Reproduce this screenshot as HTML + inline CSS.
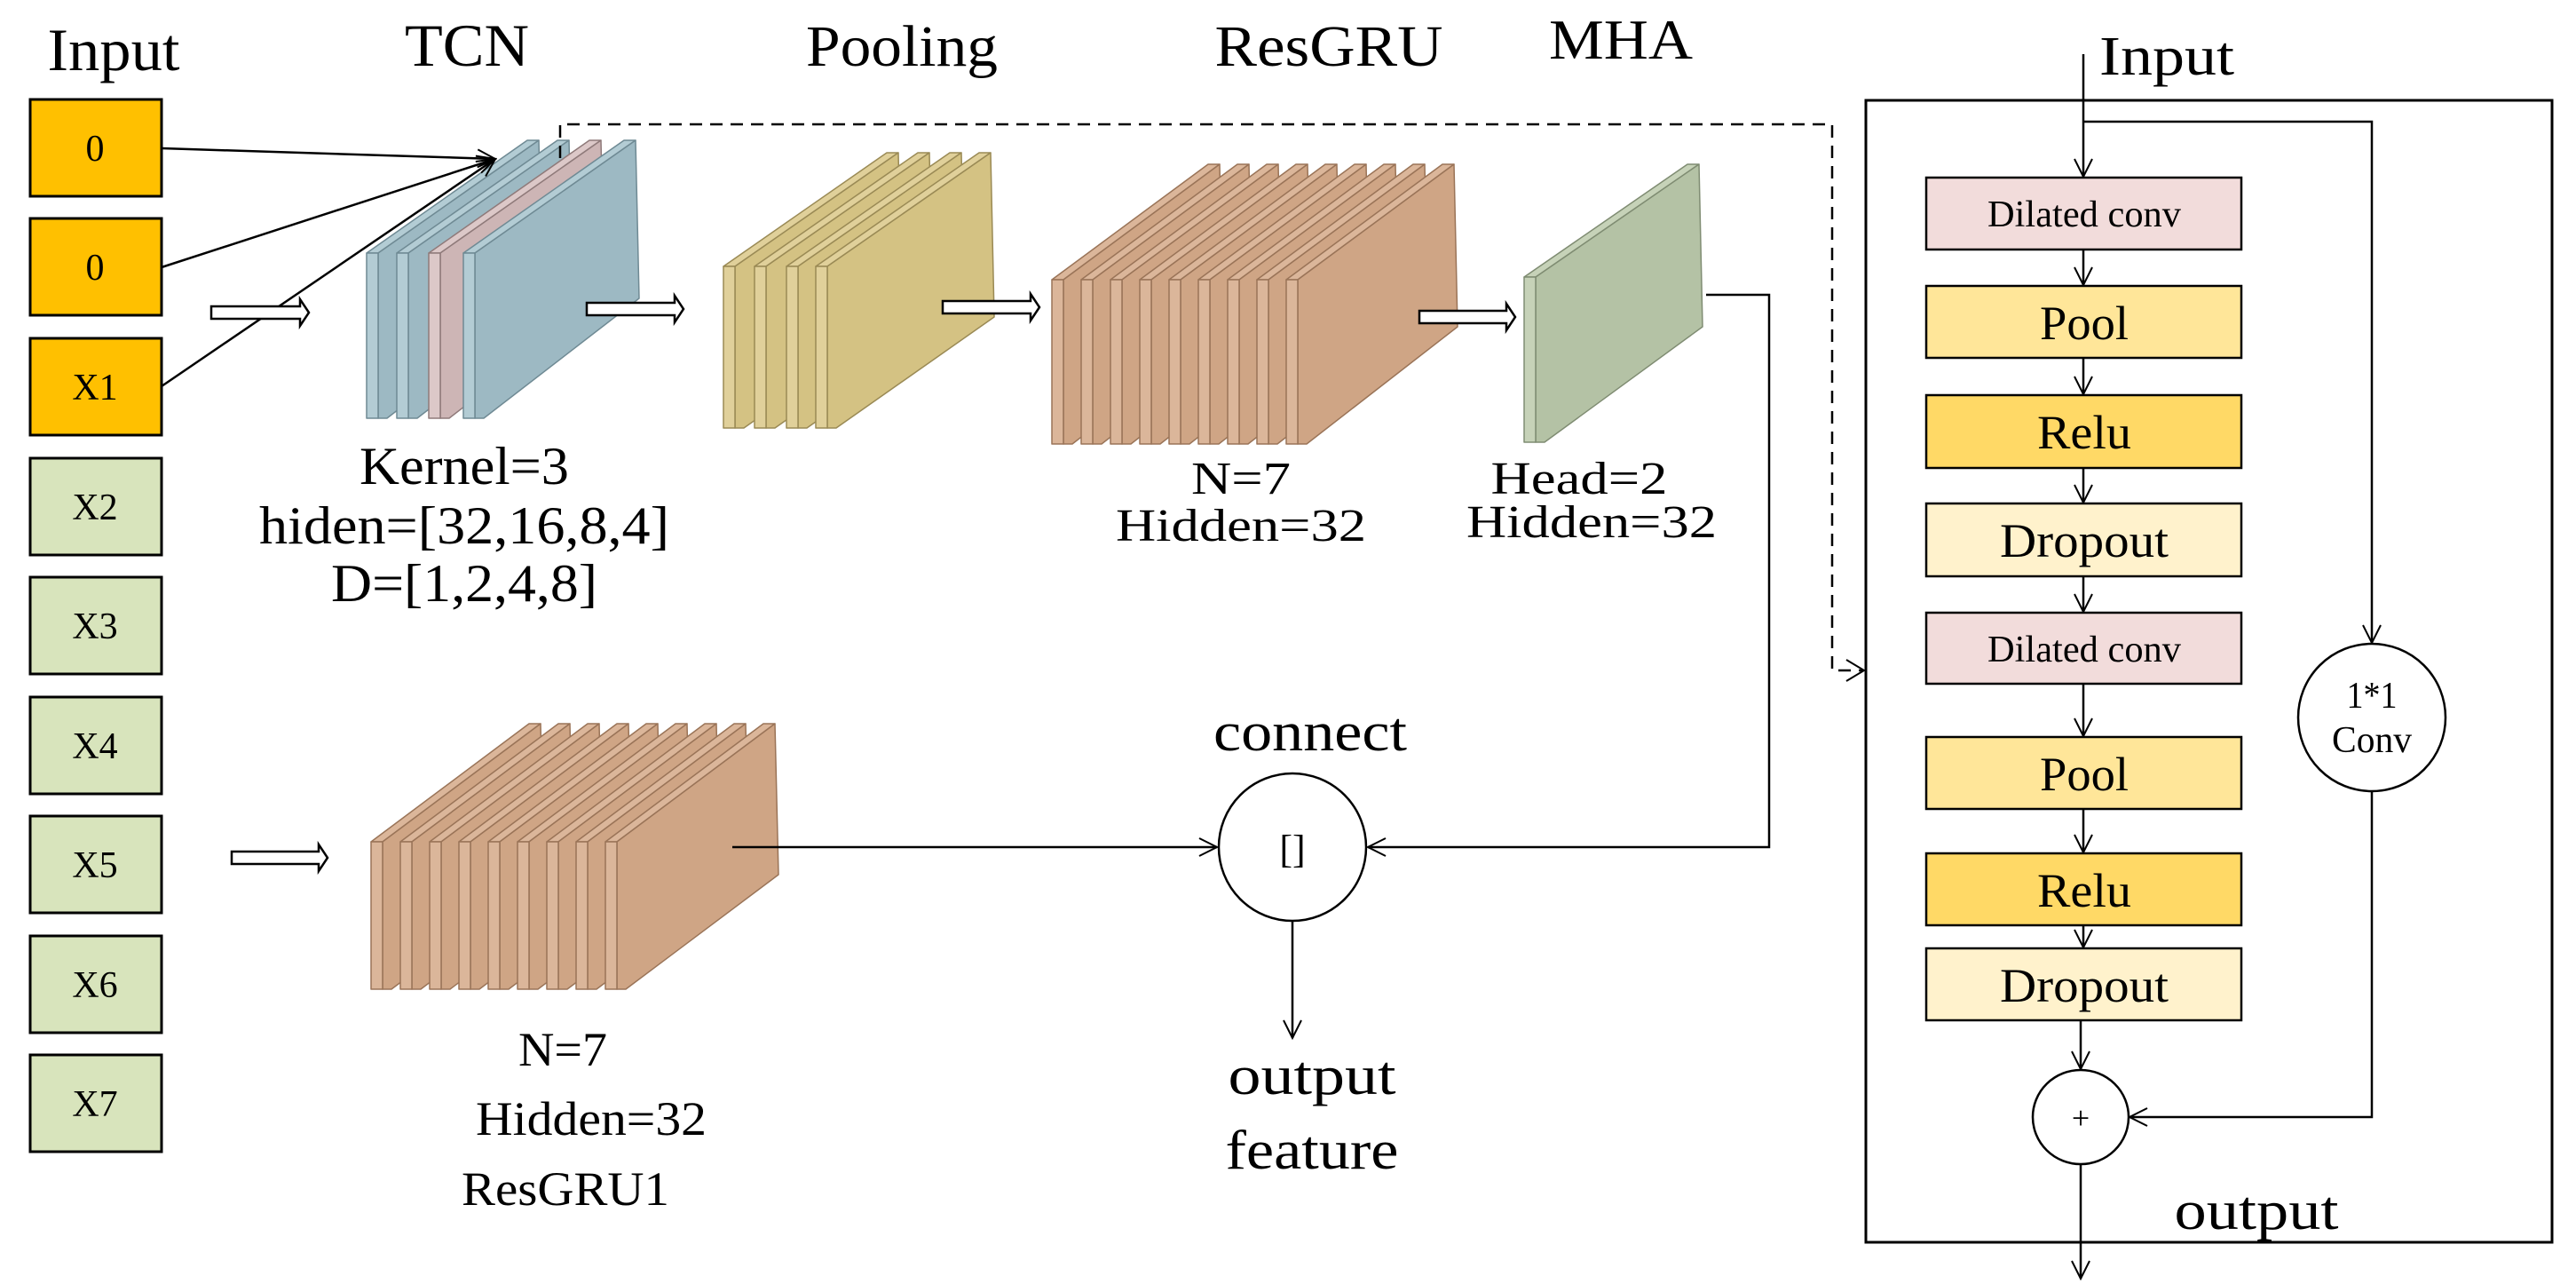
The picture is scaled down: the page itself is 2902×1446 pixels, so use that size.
<!DOCTYPE html>
<html><head><meta charset="utf-8"><style>
html,body{margin:0;padding:0;background:#fff;}
svg{display:block;}
text{font-family:"Liberation Serif",serif;fill:#000;}
</style></head><body>
<svg id="s" width="2902" height="1446" viewBox="0 0 2902 1446" xmlns="http://www.w3.org/2000/svg">
<defs>
<marker id="ah" viewBox="0 0 24 24" refX="22" refY="12" markerWidth="24" markerHeight="24" markerUnits="userSpaceOnUse" orient="auto">
<path d="M2,2 L22,12 L2,22" fill="none" stroke="#000" stroke-width="2"/>
</marker>
</defs>
<rect width="2902" height="1446" fill="#fff"/>
<g id="plates"></g>

<!-- titles -->
<text x="128" y="79" font-size="68" text-anchor="middle" textLength="149" lengthAdjust="spacingAndGlyphs">Input</text>
<text x="526" y="74" font-size="68" text-anchor="middle" textLength="140" lengthAdjust="spacingAndGlyphs">TCN</text>
<text x="1016" y="74" font-size="66" text-anchor="middle" textLength="216" lengthAdjust="spacingAndGlyphs">Pooling</text>
<text x="1497" y="74" font-size="66" text-anchor="middle" textLength="257" lengthAdjust="spacingAndGlyphs">ResGRU</text>
<text x="1826" y="66" font-size="64" text-anchor="middle" textLength="162" lengthAdjust="spacingAndGlyphs">MHA</text>

<!-- input boxes -->
<g stroke="#000" stroke-width="3">
<rect x="34" y="112" width="148" height="109" fill="#FFC000"/>
<rect x="34" y="246" width="148" height="109" fill="#FFC000"/>
<rect x="34" y="381" width="148" height="109" fill="#FFC000"/>
<rect x="34" y="516" width="148" height="109" fill="#D8E4BC"/>
<rect x="34" y="650" width="148" height="109" fill="#D8E4BC"/>
<rect x="34" y="785" width="148" height="109" fill="#D8E4BC"/>
<rect x="34" y="919" width="148" height="109" fill="#D8E4BC"/>
<rect x="34" y="1054" width="148" height="109" fill="#D8E4BC"/>
<rect x="34" y="1188" width="148" height="109" fill="#D8E4BC"/>
</g>
<g font-size="42" text-anchor="middle">
<text x="107" y="181">0</text>
<text x="107" y="315">0</text>
<text x="107" y="450">X1</text>
<text x="107" y="585">X2</text>
<text x="107" y="719">X3</text>
<text x="107" y="854">X4</text>
<text x="107" y="988">X5</text>
<text x="107" y="1123">X6</text>
<text x="107" y="1257">X7</text>
</g>

<!-- lines from inputs -->
<g stroke="#000" stroke-width="2.5" fill="none">
<line x1="182" y1="167" x2="558" y2="179" marker-end="url(#ah)"/>
<line x1="182" y1="301" x2="558" y2="179" marker-end="url(#ah)"/>
<line x1="182" y1="435" x2="558" y2="179" marker-end="url(#ah)"/>
</g>

<!-- hollow arrows -->
<g fill="#fff" stroke="#000" stroke-width="2.5">
<path d="M238,345 L338,345 L338,337 L348,352 L338,367 L338,359 L238,359 Z"/>
<path d="M661,341 L760,341 L760,333 L770,348 L760,363 L760,355 L661,355 Z"/>
<path d="M1062,339 L1161,339 L1161,331 L1171,346 L1161,361 L1161,353 L1062,353 Z"/>
<path d="M1599,350 L1697,350 L1697,342 L1707,357 L1697,372 L1697,364 L1599,364 Z"/>
<path d="M261,959 L359,959 L359,951 L369,966 L359,981 L359,973 L261,973 Z"/>
</g>

<!-- dashed -->
<g stroke="#000" stroke-width="2.5" fill="none" stroke-dasharray="14,9">
<polyline points="631,178 631,140 2064,140 2064,755 2098,755"/>
</g>
<path d="M2080,743 L2100,755 L2080,767" fill="none" stroke="#000" stroke-width="2"/>

<!-- labels -->
<text x="523" y="545" font-size="60" text-anchor="middle" textLength="236" lengthAdjust="spacingAndGlyphs">Kernel=3</text>
<text x="523" y="612" font-size="60" text-anchor="middle" textLength="462" lengthAdjust="spacingAndGlyphs">hiden=[32,16,8,4]</text>
<text x="523" y="677" font-size="60" text-anchor="middle" textLength="300" lengthAdjust="spacingAndGlyphs">D=[1,2,4,8]</text>
<text x="1398" y="556" font-size="52" text-anchor="middle" textLength="112" lengthAdjust="spacingAndGlyphs">N=7</text>
<text x="1398" y="609" font-size="52" text-anchor="middle" textLength="282" lengthAdjust="spacingAndGlyphs">Hidden=32</text>
<text x="1779" y="556" font-size="52" text-anchor="middle" textLength="199" lengthAdjust="spacingAndGlyphs">Head=2</text>
<text x="1793" y="605" font-size="52" text-anchor="middle" textLength="282" lengthAdjust="spacingAndGlyphs">Hidden=32</text>
<text x="634" y="1200" font-size="54" text-anchor="middle" textLength="100" lengthAdjust="spacingAndGlyphs">N=7</text>
<text x="666" y="1278" font-size="54" text-anchor="middle" textLength="260" lengthAdjust="spacingAndGlyphs">Hidden=32</text>
<text x="637" y="1357" font-size="54" text-anchor="middle" textLength="234" lengthAdjust="spacingAndGlyphs">ResGRU1</text>
<text x="1476" y="845" font-size="62" text-anchor="middle" textLength="218" lengthAdjust="spacingAndGlyphs">connect</text>
<text x="1478" y="1232" font-size="62" text-anchor="middle" textLength="189" lengthAdjust="spacingAndGlyphs">output</text>
<text x="1478" y="1316" font-size="62" text-anchor="middle" textLength="195" lengthAdjust="spacingAndGlyphs">feature</text>

<!-- connect -->
<g stroke="#000" stroke-width="2.5" fill="none">
<polyline points="1922,332 1993,332 1993,954 1541,954" marker-end="url(#ah)"/>
<line x1="825" y1="954" x2="1371" y2="954" marker-end="url(#ah)"/>
<line x1="1456" y1="1037" x2="1456" y2="1169" marker-end="url(#ah)"/>
<circle cx="1456" cy="954" r="83" fill="#fff"/>
</g>
<text x="1456" y="971" font-size="44" text-anchor="middle">[]</text>

<!-- right panel -->
<rect x="2102" y="113" width="773" height="1286" fill="none" stroke="#000" stroke-width="3"/>
<text x="2441" y="84" font-size="62" text-anchor="middle" textLength="152" lengthAdjust="spacingAndGlyphs">Input</text>
<text x="2542" y="1384" font-size="62" text-anchor="middle" textLength="185" lengthAdjust="spacingAndGlyphs">output</text>
<g stroke="#000" stroke-width="2.5" fill="none">
<line x1="2347" y1="61" x2="2347" y2="199" marker-end="url(#ah)"/>
<polyline points="2347,137 2672,137 2672,724" marker-end="url(#ah)"/>
<line x1="2347" y1="281" x2="2347" y2="321" marker-end="url(#ah)"/>
<line x1="2347" y1="403" x2="2347" y2="444" marker-end="url(#ah)"/>
<line x1="2347" y1="527" x2="2347" y2="566" marker-end="url(#ah)"/>
<line x1="2347" y1="649" x2="2347" y2="689" marker-end="url(#ah)"/>
<line x1="2347" y1="770" x2="2347" y2="829" marker-end="url(#ah)"/>
<line x1="2347" y1="911" x2="2347" y2="960" marker-end="url(#ah)"/>
<line x1="2347" y1="1042" x2="2347" y2="1067" marker-end="url(#ah)"/>
<line x1="2344" y1="1149" x2="2344" y2="1204" marker-end="url(#ah)"/>
<polyline points="2672,891 2672,1258 2399,1258" marker-end="url(#ah)"/>
<line x1="2344" y1="1311" x2="2344" y2="1440" marker-end="url(#ah)"/>
</g>
<g stroke="#000" stroke-width="2.5">
<rect x="2170" y="200" width="355" height="81" fill="#F2DCDB"/>
<rect x="2170" y="322" width="355" height="81" fill="#FFE699"/>
<rect x="2170" y="445" width="355" height="82" fill="#FFD966"/>
<rect x="2170" y="567" width="355" height="82" fill="#FFF2CC"/>
<rect x="2170" y="690" width="355" height="80" fill="#F2DCDB"/>
<rect x="2170" y="830" width="355" height="81" fill="#FFE699"/>
<rect x="2170" y="961" width="355" height="81" fill="#FFD966"/>
<rect x="2170" y="1068" width="355" height="81" fill="#FFF2CC"/>
<ellipse cx="2672" cy="808" rx="83" ry="83" fill="#fff"/>
<ellipse cx="2344" cy="1258" rx="54" ry="53" fill="#fff"/>
</g>
<g text-anchor="middle">
<text x="2348" y="255" font-size="42" textLength="218" lengthAdjust="spacingAndGlyphs">Dilated conv</text>
<text x="2348" y="382" font-size="54" textLength="100" lengthAdjust="spacingAndGlyphs">Pool</text>
<text x="2348" y="505" font-size="54" textLength="106" lengthAdjust="spacingAndGlyphs">Relu</text>
<text x="2348" y="627" font-size="54" textLength="190" lengthAdjust="spacingAndGlyphs">Dropout</text>
<text x="2348" y="745" font-size="42" textLength="218" lengthAdjust="spacingAndGlyphs">Dilated conv</text>
<text x="2348" y="890" font-size="54" textLength="100" lengthAdjust="spacingAndGlyphs">Pool</text>
<text x="2348" y="1021" font-size="54" textLength="106" lengthAdjust="spacingAndGlyphs">Relu</text>
<text x="2348" y="1128" font-size="54" textLength="190" lengthAdjust="spacingAndGlyphs">Dropout</text>
<text x="2672" y="797" font-size="42" textLength="57" lengthAdjust="spacingAndGlyphs">1*1</text>
<text x="2672" y="847" font-size="42" textLength="90" lengthAdjust="spacingAndGlyphs">Conv</text>
<text x="2344" y="1271" font-size="36">+</text>
</g>
</svg>
<script>
(function(){
var g=document.getElementById('plates');
var NS='http://www.w3.org/2000/svg';
function poly(pts,fill,stroke){var p=document.createElementNS(NS,'polygon');p.setAttribute('points',pts.map(function(a){return a.join(',');}).join(' '));p.setAttribute('fill',fill);p.setAttribute('stroke',stroke);p.setAttribute('stroke-width','1.5');p.setAttribute('stroke-linejoin','round');g.appendChild(p);}
function plate(L,T,dx,dy,H,R,col,edge,dark){
var t=13;
poly([[L,T],[L+dx,T-dy],[L+dx+t,T-dy],[L+t,T]],edge,dark);
poly([[L+t,T],[L+t+dx,T-dy],[L+t+dx+4,T-dy+R],[L+t+10,T+H],[L+t,T+H]],col,dark);
poly([[L,T],[L+t,T],[L+t,T+H],[L,T+H]],edge,dark);
}
var blue=['#9DB9C3','#B3CCD4','#6F8A94'],pink=['#CDB5B5','#DCC8C8','#8F7A7A'];
var tc=[blue,blue,pink,blue],tl=[413,447,483,522];
for(var i=0;i<4;i++)plate(tl[i],285,181,127,186,178,tc[i][0],tc[i][1],tc[i][2]);
var pl=[815,850,886,919];
for(i=0;i<4;i++)plate(pl[i],300,184,128,182,185,'#D4C283','#E0D09A','#9A8A55');
for(i=0;i<9;i++)plate(1185+i*33,315,176,130,185,183,'#CFA585','#DBB69A','#9A7458');
plate(1717,312,184,127,186,183,'#B4C2A5','#C6D2B8','#7F8C72');
for(i=0;i<9;i++)plate(418+i*33,948,178,133,166,170,'#CFA585','#DBB69A','#9A7458');
})();
</script>
</body></html>
